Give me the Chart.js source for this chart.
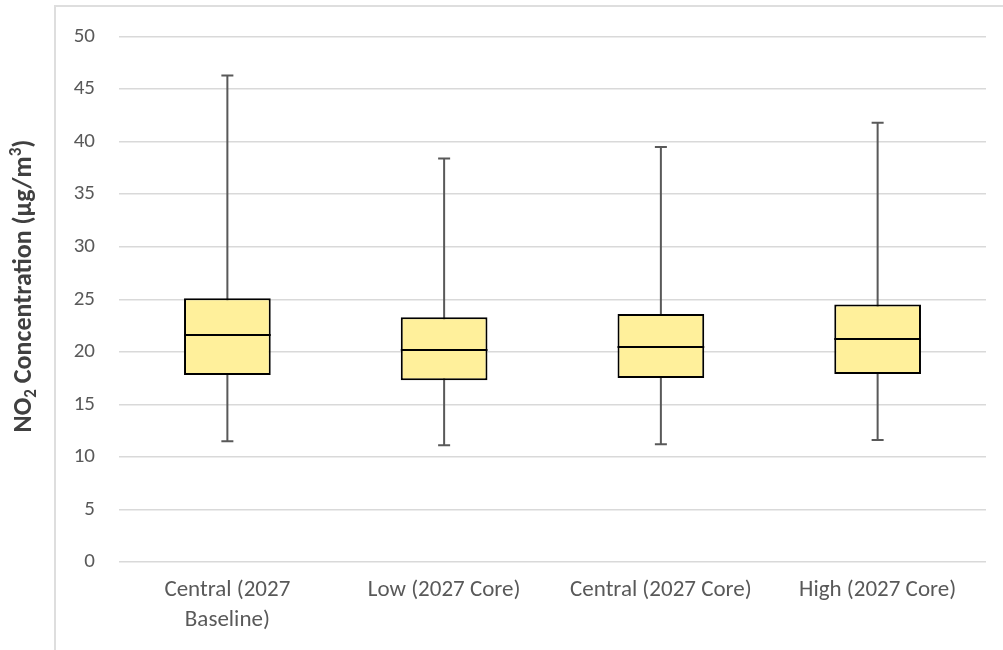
<!DOCTYPE html>
<html>
<head>
<meta charset="utf-8">
<script src="https://cdn.jsdelivr.net/npm/chart.js@4.4.1/dist/chart.umd.min.js"></script>
<style>
  html, body { margin: 0; padding: 0; background: #fff; overflow: hidden; }
  #wrap { position: relative; width: 1003px; height: 650px; }
  #frame {
    position: absolute; left: 54px; top: 5px; right: -10px; bottom: -10px;
    border: 2px solid #dedede; pointer-events: none;
  }
</style>
</head>
<body>
<div id="wrap">
  <canvas id="no2box" width="1003" height="650"></canvas>
  <div id="frame"></div>
</div>
<script>
const categories = [['Central (2027', 'Baseline)'], 'Low (2027 Core)', 'Central (2027 Core)', 'High (2027 Core)'];
const minVals = [11.5, 11.1, 11.2, 11.6];
const q1Vals = [17.8, 17.3, 17.5, 17.9];
const medianVals = [21.6, 20.2, 20.5, 21.2];
const q3Vals = [25.1, 23.3, 23.6, 24.5];
const maxVals = [46.3, 38.4, 39.5, 41.8];
const yTicks = [0, 5, 10, 15, 20, 25, 30, 35, 40, 45, 50];

const FONT = 'Calibri, Carlito, Lato, sans-serif';
const boxFill = '#fff09b';

// whiskers behind the boxes, median line on top
const boxExtras = {
  id: 'boxExtras',
  beforeDatasetsDraw(chart) {
    const ctx = chart.ctx;
    const x = chart.scales.x, y = chart.scales.y;
    ctx.save();
    ctx.strokeStyle = '#595959';
    ctx.lineWidth = 2;
    categories.forEach((c, i) => {
      const cx = x.getPixelForValue(i);
      const top = y.getPixelForValue(maxVals[i]);
      const bot = y.getPixelForValue(minVals[i]);
      ctx.beginPath();
      ctx.moveTo(cx, top); ctx.lineTo(cx, bot);
      ctx.moveTo(cx - 6, top); ctx.lineTo(cx + 6, top);
      ctx.moveTo(cx - 6, bot); ctx.lineTo(cx + 6, bot);
      ctx.stroke();
    });
    ctx.restore();
  },
  afterDatasetsDraw(chart) {
    const ctx = chart.ctx;
    const y = chart.scales.y;
    const bars = chart.getDatasetMeta(0).data;
    ctx.save();
    ctx.strokeStyle = '#000';
    ctx.lineWidth = 2;
    bars.forEach((bar, i) => {
      const my = Math.round(y.getPixelForValue(medianVals[i]));
      ctx.beginPath();
      ctx.moveTo(bar.x - bar.width / 2, my);
      ctx.lineTo(bar.x + bar.width / 2, my);
      ctx.stroke();
    });
    ctx.restore();
  }
};

// rotated axis title with subscript / superscript
const yTitle = {
  id: 'yTitle',
  afterDraw(chart) {
    const ctx = chart.ctx;
    const parts = [
      { t: 'NO', size: 26, dy: 0 },
      { t: '2', size: 17, dy: 5 },
      { t: ' Concentration (\u00b5g/m', size: 26, dy: 0 },
      { t: '3', size: 17, dy: -10 },
      { t: ')', size: 26, dy: 0 }
    ];
    ctx.save();
    let total = 0;
    parts.forEach(p => {
      ctx.font = 'bold ' + p.size + 'px ' + FONT;
      p.w = ctx.measureText(p.t).width;
      total += p.w;
    });
    ctx.translate(31, 286);
    ctx.rotate(-Math.PI / 2);
    ctx.fillStyle = '#404040';
    ctx.textBaseline = 'alphabetic';
    let px = -total / 2;
    parts.forEach(p => {
      ctx.font = 'bold ' + p.size + 'px ' + FONT;
      ctx.fillText(p.t, px, p.dy);
      px += p.w;
    });
    ctx.restore();
  }
};

new Chart(document.getElementById('no2box'), {
  type: 'bar',
  data: {
    labels: categories,
    datasets: [{
      label: 'Interquartile range',
      data: q1Vals.map((v, i) => [v, q3Vals[i]]),
      backgroundColor: boxFill,
      borderColor: '#000',
      borderWidth: 2,
      borderSkipped: false,
      barPercentage: 0.4,
      categoryPercentage: 1
    }]
  },
  options: {
    responsive: false,
    animation: false,
    layout: { padding: { top: 34, right: 17, left: 0, bottom: 0 } },
    plugins: {
      legend: { display: false },
      tooltip: { enabled: false }
    },
    scales: {
      x: {
        grid: { display: false, drawTicks: false },
        border: { display: false },
        ticks: {
          color: '#595959',
          padding: 13,
          font: { family: FONT, size: 23, lineHeight: 1.3 },
          maxRotation: 0
        },
        afterFit(s) { s.height = 88; }
      },
      y: {
        min: 0,
        max: 50,
        grid: { color: '#d9d9d9', lineWidth: 1.5, drawTicks: false },
        border: { display: false },
        afterBuildTicks(s) { s.ticks = yTicks.map(v => ({ value: v })); },
        ticks: {
          color: '#595959',
          padding: 24,
          font: { family: FONT, size: 21 }
        },
        afterFit(s) { s.width = 119; }
      }
    }
  },
  plugins: [boxExtras, yTitle]
});
</script>
</body>
</html>
